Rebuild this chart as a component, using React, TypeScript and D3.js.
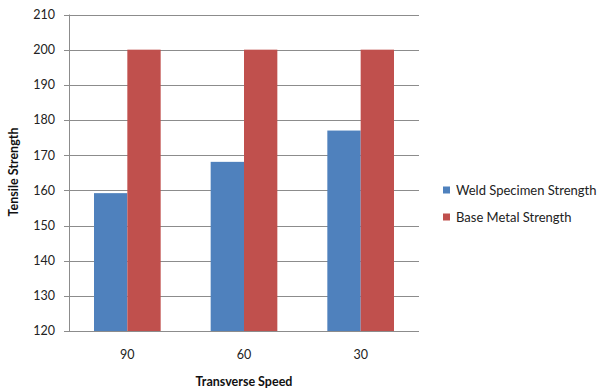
import React from "react";
import * as d3 from "d3";

const categories = ["90", "60", "30"];
const seriesNames = ["Weld Specimen Strength", "Base Metal Strength"];
const weldValues = [159.2, 168.1, 177];
const baseValues = [200, 200, 200];
const yTicks = [120, 130, 140, 150, 160, 170, 180, 190, 200, 210];
const colors = ["#4F81BD", "#C0504D"];

const W = 600, H = 392;
const left = 69, right = 419, top = 14.5, bottom = 331;
const font = "Lato, 'Open Sans', sans-serif";

export default function App() {
  const x = d3.scaleBand<string>().domain(categories).range([left, right]).paddingInner(0).paddingOuter(0);
  const y = d3.scaleLinear().domain([120, 210]).range([bottom, top]);
  const bw = x.bandwidth();
  const barW = bw * (2 / 7);
  const series = [weldValues, baseValues];
  return (
    <svg width={W} height={H} style={{ position: "absolute", left: 0, top: 0, background: "#fff" }}>
      {yTicks.map((t) => (
        <g key={t}>
          <line x1={left - 5} x2={right} y1={Math.round(y(t)) + 0.5} y2={Math.round(y(t)) + 0.5} stroke="#8c8c8c" strokeWidth={1} />
          <text x={55} y={y(t)} dy="0.35em" textAnchor="end" fontFamily={font} fontSize={12.5} fill="#222">{t}</text>
        </g>
      ))}
      <line x1={left + 0.5} x2={left + 0.5} y1={top} y2={bottom} stroke="#8c8c8c" />
      {categories.map((c, i) => {
        const cx = (x(c) as number) + bw / 2;
        return (
          <g key={c}>
            {series.map((vals, s) => (
              <rect key={s} x={cx - barW + s * barW} y={y(vals[i])} width={barW} height={bottom - y(vals[i])} fill={colors[s]} />
            ))}
            <text x={cx} y={355} dy="0.35em" textAnchor="middle" fontFamily={font} fontSize={12.5} fill="#222">{c}</text>
          </g>
        );
      })}
      <line x1={left} x2={right} y1={bottom + 0.5} y2={bottom + 0.5} stroke="#8c8c8c" />
      <text x={244} y={382} dy="0.35em" textAnchor="middle" fontFamily={font} fontSize={12.5} fontWeight="bold" fill="#111">Transverse Speed</text>
      <text transform={`translate(14,172) rotate(-90)`} dy="0.35em" textAnchor="middle" fontFamily={font} fontSize={12.5} fontWeight="bold" fill="#111">Tensile Strength</text>
      {seriesNames.map((n, i) => (
        <g key={n} transform={`translate(443,${190 + i * 27})`}>
          <rect x={0} y={-3.5} width={7} height={7} fill={colors[i]} />
          <text x={13} y={0} dy="0.35em" fontFamily={font} fontSize={13} fill="#222">{n}</text>
        </g>
      ))}
    </svg>
  );
}
